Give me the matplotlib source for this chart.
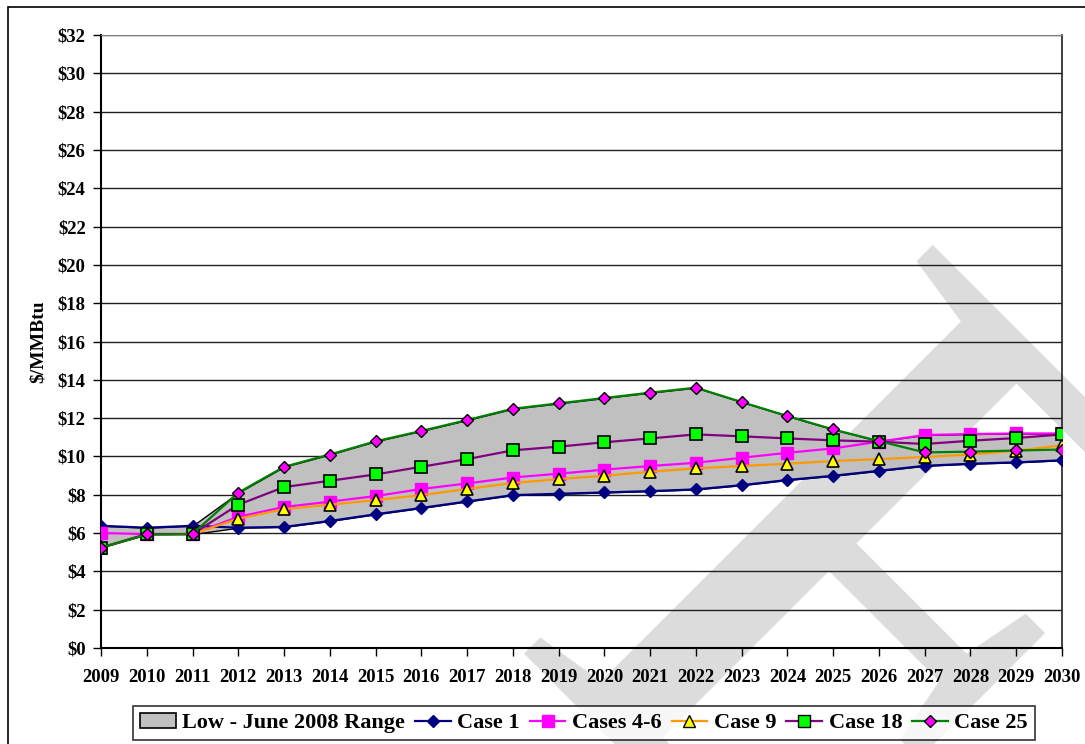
import matplotlib.pyplot as plt
from matplotlib.patches import Patch, Rectangle
from matplotlib.lines import Line2D
import numpy as np

anos = list(range(2009, 2031))
case1 = [6.38, 6.28, 6.38, 6.28, 6.32, 6.63, 6.98, 7.31, 7.65, 7.98, 8.05, 8.12, 8.19, 8.28, 8.50, 8.77, 8.99, 9.25, 9.51, 9.62, 9.69, 9.80]
cases46 = [6.00, 5.95, 5.95, 6.85, 7.36, 7.64, 7.93, 8.30, 8.59, 8.90, 9.10, 9.31, 9.50, 9.67, 9.93, 10.19, 10.42, 10.77, 11.12, 11.17, 11.20, 11.20]
case9 = [5.24, 5.95, 5.95, 6.75, 7.25, 7.48, 7.72, 7.98, 8.30, 8.61, 8.82, 8.99, 9.20, 9.38, 9.50, 9.62, 9.76, 9.86, 9.97, 10.10, 10.30, 10.58]
case18 = [5.24, 5.95, 5.95, 7.48, 8.40, 8.73, 9.06, 9.46, 9.86, 10.32, 10.51, 10.74, 10.94, 11.15, 11.05, 10.94, 10.84, 10.77, 10.65, 10.82, 10.96, 11.15]
case25 = [5.24, 5.93, 5.95, 8.11, 9.46, 10.10, 10.79, 11.33, 11.90, 12.49, 12.77, 13.05, 13.33, 13.59, 12.84, 12.11, 11.41, 10.80, 10.21, 10.25, 10.31, 10.36]
yticks = list(range(0, 33, 2))

plt.rcParams['font.family'] = ['Liberation Serif', 'DejaVu Serif']
plt.rcParams['font.weight'] = 'bold'

fig = plt.figure(figsize=(10.85, 7.44), dpi=100)
ax = fig.add_axes([101/1085, 1 - 648/744, 961/1085, 613/744])
ax.patch.set_alpha(0)

# marca d'agua ao fundo
fig.text(0.459, 0.122, 'E', rotation=-45, fontsize=635, color='#dcdcdc',
         family='Liberation Serif', weight='normal', ha='left', va='baseline',
         rotation_mode='anchor', zorder=-5)

# moldura externa (cortada a direita e em baixo)
fig.patches.append(Rectangle((8/1085, -0.1), 1.2, 1.1 - 7/744, transform=fig.transFigure,
                             fill=False, edgecolor='black', linewidth=1.2))

todos = np.array([case1, cases46, case9, case18, case25])
ax.fill_between(anos, todos.min(axis=0), todos.max(axis=0), facecolor='#c0c0c0',
                edgecolor='black', linewidth=1.0, zorder=2)

ax.plot(anos, case1, color='#000080', lw=1.6, marker='D', ms=6, mfc='#000080', mec='#000080', zorder=3)
ax.plot(anos, cases46, color='#ff00ff', lw=1.6, marker='s', ms=8, mfc='#ff00ff', mec='#ff00ff', zorder=3)
ax.plot(anos, case9, color='#ff9900', lw=1.6, marker='^', ms=8, mfc='#ffff00', mec='black', mew=1.2, zorder=3)
ax.plot(anos, case18, color='#800080', lw=1.6, marker='s', ms=9, mfc='#00ff00', mec='black', mew=1.2, zorder=3)
ax.plot(anos, case25, color='#008000', lw=1.6, marker='D', ms=6.5, mfc='#ff00ff', mec='black', mew=1.0, zorder=3)

ax.set_xlim(2009, 2030)
ax.set_ylim(0, 32)
ax.set_xticks(anos)
ax.set_xticklabels([str(a) for a in anos], fontsize=13.5, fontweight='bold')
ax.set_yticks(yticks)
ax.set_yticklabels(['$' + str(v) for v in yticks], fontsize=13.5, fontweight='bold')
ax.tick_params(axis='both', direction='out', length=6, width=1, color='black')
ax.tick_params(axis='x', pad=9)
ax.tick_params(axis='y', pad=5)
ax.grid(axis='y', color='#202020', linewidth=1.0, zorder=1)
ax.set_axisbelow(True)
ax.spines['left'].set_linewidth(1.5)
ax.spines['bottom'].set_linewidth(1.5)
ax.spines['top'].set_color('#808080')
ax.spines['right'].set_color('#202020')
ax.spines['right'].set_linewidth(1.2)
ax.set_ylabel('$/MMBtu', fontsize=14, fontweight='bold', labelpad=8)

handles = [
    Patch(facecolor='#c0c0c0', edgecolor='black', linewidth=1.2),
    Line2D([], [], color='#000080', lw=1.6, marker='D', ms=6, mfc='#000080', mec='#000080'),
    Line2D([], [], color='#ff00ff', lw=1.6, marker='s', ms=8, mfc='#ff00ff', mec='#ff00ff'),
    Line2D([], [], color='#ff9900', lw=1.6, marker='^', ms=8, mfc='#ffff00', mec='black'),
    Line2D([], [], color='#800080', lw=1.6, marker='s', ms=8, mfc='#00ff00', mec='black'),
    Line2D([], [], color='#008000', lw=1.6, marker='D', ms=6, mfc='#ff00ff', mec='black'),
]
nomes = ['Low - June 2008 Range', 'Case 1', 'Cases 4-6', 'Case 9', 'Case 18', 'Case 25']
leg = fig.legend(handles, nomes, loc='center', bbox_to_anchor=(584/1085, 1 - 723/744), ncol=6,
                 prop={'family': 'Liberation Serif', 'weight': 'bold', 'size': 16},
                 frameon=True, fancybox=False, edgecolor='black', handlelength=1.6,
                 handletextpad=0.3, columnspacing=0.45, borderpad=0.3, borderaxespad=0)
leg.get_frame().set_linewidth(1.2)

fig.savefig('out.png', dpi=100)
